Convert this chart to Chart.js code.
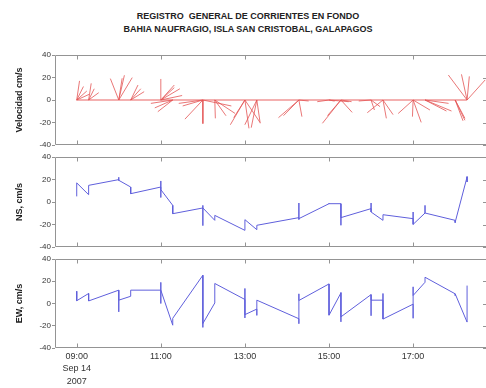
<!DOCTYPE html>
<html>
<head>
<meta charset="utf-8">
<script src="https://cdn.jsdelivr.net/npm/chart.js@4.4.0/dist/chart.umd.min.js"></script>
<style>
  body { margin: 0; background: #fff; width: 486px; height: 388px; overflow: hidden; position: relative; font-family: "Liberation Sans", Arial, sans-serif; }
  #title { position: absolute; left: 0; top: 10px; width: 496px; text-align: center; font-weight: bold; font-size: 9px; line-height: 13px; color: #222; }
  canvas { position: absolute; left: 0; }
</style>
</head>
<body>
<div id="title">REGISTRO&nbsp; GENERAL DE CORRIENTES EN FONDO<br>BAHIA NAUFRAGIO, ISLA SAN CRISTOBAL, GALAPAGOS</div>
<canvas id="chartVel" width="486" height="110" style="top:45px"></canvas>
<canvas id="chartNS" width="486" height="110" style="top:147px"></canvas>
<canvas id="chartEW" width="486" height="139" style="top:249px"></canvas>
<script>
// bursts of samples, one list of values per burst time
const burstTimes = ["09:00", "09:17", "10:00", "10:17", "11:00", "11:17", "12:00", "12:17", "13:00", "13:17",
                    "14:17", "15:00", "15:17", "16:00", "16:17", "17:00", "17:17", "18:00", "18:17"];
const nsBursts = [
    [5, 12, 8, 17], [6.5, 10, 14.8], [19.9, 22, 19, 19.3], [13.3, 10, 7.4], [13.3, 18.7, 4, 10, 11],
    [-3, -7, -10.4], [-5.3, -21, -17, -3, -5.3], [-16.3, -14, -11.9], [-25.2, -20, -22, -15.7], [-24.6, -22, -20.7],
    [-13.9, -0.9, -15.7, -14.8], [-1.5, -1, -1.5], [-1.5, -20.7, -11, -13.9], [-5.9, -0.9, -8.9], [-16.3, -13, -11.3],
    [-14.8, -8.9, -12, -19.9], [-9.8, -3, -9.8], [-16.3, -18.5, -18], [22.2, 22.8, 21, 17.8]
];
const ewBursts = [
    [11, 6, 9, 2.5], [9, 5, 2.3], [12, 5, -7.5, 3], [6.5, 9, 12], [12, 0, 19, 17, 12],
    [-19.5, -16, -13.3], [25.4, 0, -16, -21.5, -18], [0.5, 10, 18], [3.6, 13.5, -13, -10], [-5, -10.7, 3],
    [-13.7, 8.7, -18.2, 2.7], [17.6, 5, -10.5], [9.5, -16.5, 10, -12], [8, -11, 3], [3, 9, -14],
    [-0.6, 15, -13.3, 7.2], [19.1, 21, 23.6], [8.7, 7, 8.7], [-16.7, -5, 2, 16.1]
];
const yTickValues = [-40, -20, 0, 20, 40];
const xTickTimes = ["09:00", "11:00", "13:00", "15:00", "17:00"];
const xDateLines = ["Sep 14", "2007"];

const FONT = "'Liberation Sans', Arial, sans-serif";
const xMin = 509, xMax = 1124;   // minutes since midnight
const stickScale = 1.6;          // minutes of x per cm/s, keeps sticks at true angle

function toMin(s) {
    var p = s.split(":");
    return Number(p[0]) * 60 + Number(p[1]);
}
function fmtTime(m) {
    var h = Math.floor(m / 60), mm = Math.round(m % 60);
    return (h < 10 ? "0" : "") + h + ":" + (mm < 10 ? "0" : "") + mm;
}

var nsPoints = [], ewPoints = [], sticks = [];
burstTimes.forEach(function (t, i) {
    var m = toMin(t);
    nsBursts[i].forEach(function (v, j) {
        var e = ewBursts[i][j];
        nsPoints.push({ x: m, y: v });
        ewPoints.push({ x: m, y: e });
        //each stick goes from the time on the zero line to (EW, NS)
        sticks.push({ x: m, y: 0 }, { x: m + e * stickScale, y: v }, { x: m, y: null });
    });
});
var baseline = [{ x: toMin(burstTimes[0]), y: 0 }, { x: toMin(burstTimes[burstTimes.length - 1]), y: 0 }];

// box, inner x ticks and right y ticks like the original plot
const framePlugin = {
    id: "frame",
    afterDatasetsDraw(chart) {
        const { ctx, chartArea: a, scales } = chart;
        const top = Math.round(a.top) + 0.5, bottom = Math.round(a.bottom) - 0.5;
        const left = Math.round(a.left) + 0.5, right = a.right;
        ctx.save();
        ctx.strokeStyle = "#949494";
        ctx.lineWidth = 1;
        ctx.beginPath();
        ctx.moveTo(right, top); ctx.lineTo(left, top); ctx.lineTo(left, bottom); ctx.lineTo(right, bottom);
        xTickTimes.forEach(function (t) {
            var px = Math.round(scales.x.getPixelForValue(toMin(t))) + 0.5;
            ctx.moveTo(px, top); ctx.lineTo(px, top + 4);
            ctx.moveTo(px, bottom); ctx.lineTo(px, bottom - 4);
        });
        yTickValues.forEach(function (v) {
            var py = Math.round(scales.y.getPixelForValue(v)) + 0.5;
            ctx.moveTo(right - 3, py); ctx.lineTo(right, py);
        });
        ctx.stroke();
        ctx.restore();
    }
};

function yScale(title) {
    return {
        min: -40, max: 40,
        afterBuildTicks: function (s) { s.ticks = yTickValues.map(function (v) { return { value: v }; }); },
        afterFit: function (s) { s.width = 55; },
        grid: { drawOnChartArea: false, tickLength: 3, color: "#949494" },
        border: { display: false },
        ticks: { color: "#333", font: { size: 8, family: FONT }, padding: 1 },
        title: { display: true, text: title, color: "#222", font: { size: 9, weight: "bold", family: FONT }, padding: { top: 14 } }
    };
}

function xScale(showLabels) {
    var sc = {
        type: "linear", min: xMin, max: xMax,
        display: showLabels,
        afterBuildTicks: function (s) { s.ticks = xTickTimes.map(function (t) { return { value: toMin(t) }; }); },
        grid: { display: false, drawTicks: false },
        border: { display: false },
        ticks: {
            color: "#333", font: { size: 9, family: FONT, lineHeight: 1.4 }, padding: 2,
            maxRotation: 0, autoSkip: false,
            callback: function (v, i) { return i === 0 ? [fmtTime(v)].concat(xDateLines) : fmtTime(v); }
        }
    };
    if (showLabels) sc.afterFit = function (s) { s.height = 40; };
    return sc;
}

function makeChart(id, datasets, yTitle, showX, padBottom) {
    return new Chart(document.getElementById(id), {
        type: "line",
        data: { datasets: datasets },
        options: {
            responsive: false,
            animation: false,
            devicePixelRatio: 1,
            events: [],
            layout: { padding: { top: 10, bottom: padBottom, left: 0, right: 0 } },
            plugins: { legend: { display: false }, tooltip: { enabled: false } },
            elements: { point: { radius: 0 }, line: { tension: 0, borderWidth: 1 } },
            scales: { x: xScale(showX), y: yScale(yTitle) }
        },
        plugins: [framePlugin]
    });
}

makeChart("chartVel", [
    { data: baseline, borderColor: "rgba(230,80,80,0.9)" },
    { data: sticks, borderColor: "rgba(228,85,85,0.8)", spanGaps: false }
], "Velocidad cm/s", false, 10);

makeChart("chartNS", [
    { data: nsPoints, borderColor: "rgb(95,95,220)" }
], "NS, cm/s", false, 10);

makeChart("chartEW", [
    { data: ewPoints, borderColor: "rgb(95,95,220)" }
], "EW, cm/s", true, 0);
</script>
</body>
</html>
